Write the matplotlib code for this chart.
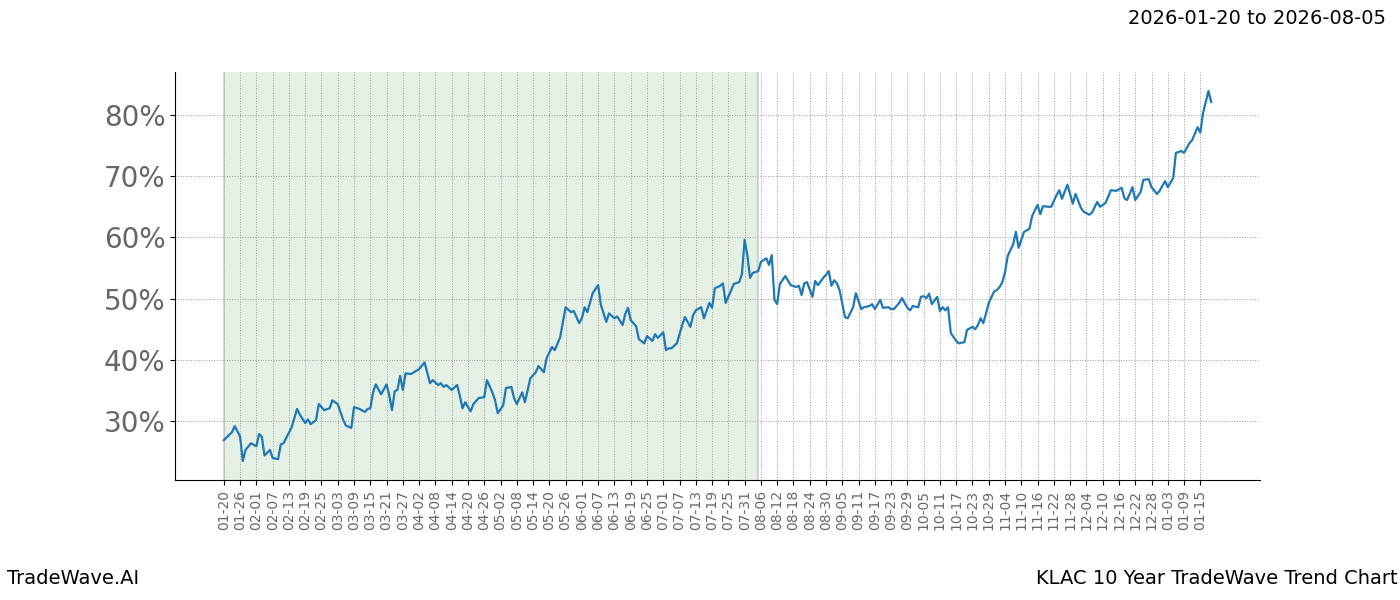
import numpy as np
import pandas as pd
import matplotlib
matplotlib.use('Agg')
import matplotlib.pyplot as plt
from matplotlib.ticker import FuncFormatter

start = pd.Timestamp('2026-01-20')
span_days = 197  # 2026-01-20 .. 2026-08-05

# day offset from start, trend value in %
days = [0, 3, 4, 6, 7, 8, 10, 12, 13, 14, 15, 17, 18, 20, 21, 22, 25, 27, 28, 30,
        31, 32, 34, 35, 37, 39, 40, 42, 44, 45, 47, 48, 50, 52, 53, 54, 55, 56, 58, 60,
        61, 62, 63, 64, 65, 66, 67, 69, 72, 74, 76, 77, 79, 80, 81, 82, 84, 86, 87, 88,
        89, 91, 92, 94, 96, 97, 99, 100, 101, 103, 104, 106, 107, 108, 110, 111, 113, 115, 116, 118,
        119, 121, 122, 124, 125, 126, 128, 129, 131, 132, 133, 134, 136, 138, 139, 141, 142, 144, 145, 147,
        148, 149, 150, 152, 153, 155, 156, 158, 159, 160, 162, 163, 164, 165, 167, 169, 170, 172, 173, 174,
        176, 177, 179, 180, 181, 183, 184, 185, 186, 188, 190, 191, 192, 193, 194, 195, 197, 198, 200, 201,
        202, 203, 204, 205, 207, 209, 211, 212, 213, 214, 215, 217, 218, 219, 221, 222, 223, 224, 225, 226,
        227, 229, 230, 232, 233, 235, 236, 238, 239, 240, 242, 243, 245, 246, 247, 249, 250, 252, 253, 254,
        256, 257, 258, 259, 260, 261, 263, 264, 265, 266, 267, 268, 270, 271, 273, 274, 276, 277, 278, 279,
        280, 281, 282, 284, 285, 286, 287, 288, 289, 291, 292, 293, 294, 295, 297, 298, 300, 301, 302, 304,
        305, 307, 308, 309, 311, 313, 314, 316, 317, 319, 320, 322, 323, 325, 326, 327, 329, 331, 332, 333,
        335, 336, 338, 339, 341, 342, 344, 345, 347, 348, 350, 351, 353, 354, 356, 357, 359, 360, 361, 363, 364]
values = [26.9, 28.2, 29.2, 27.5, 23.5, 25.3, 26.4, 25.9, 27.9, 27.5, 24.4, 25.3, 24.0, 23.8, 26.2, 26.4, 29.0, 32.0, 31.1, 29.7,
          30.3, 29.5, 30.2, 32.8, 31.8, 32.1, 33.4, 32.8, 30.2, 29.3, 28.9, 32.3, 32.0, 31.5, 32.0, 32.1, 34.7, 36.0, 34.4, 36.0,
          34.2, 31.8, 34.9, 35.1, 37.4, 35.1, 37.8, 37.7, 38.5, 39.6, 36.2, 36.7, 35.9, 36.2, 35.6, 35.9, 35.1, 35.9, 34.2, 32.1,
          33.1, 31.6, 32.8, 33.8, 33.9, 36.7, 34.7, 33.4, 31.3, 32.6, 35.4, 35.6, 33.8, 32.8, 34.7, 33.1, 37.0, 38.0, 39.0, 38.0,
          40.3, 42.1, 41.6, 43.7, 46.2, 48.6, 47.8, 48.0, 46.0, 46.8, 48.6, 47.8, 50.9, 52.2, 49.0, 46.2, 47.6, 46.8, 47.1, 45.7,
          47.5, 48.5, 46.5, 45.5, 43.4, 42.7, 43.9, 43.1, 44.2, 43.6, 44.5, 41.6, 41.9, 41.9, 42.7, 45.7, 47.0, 45.4, 47.3, 48.1,
          48.6, 46.8, 49.3, 48.5, 51.7, 52.1, 52.5, 49.3, 50.3, 52.4, 52.7, 54.0, 59.6, 57.1, 53.4, 54.2, 54.5, 56.0, 56.6, 55.5,
          57.1, 49.8, 49.1, 52.4, 53.7, 52.2, 51.9, 52.1, 50.6, 52.5, 52.7, 50.3, 52.9, 52.2, 53.4, 53.9, 54.5, 52.1, 53.0, 52.5,
          51.4, 47.0, 46.8, 48.6, 50.9, 48.3, 48.6, 48.8, 49.1, 48.3, 49.8, 48.5, 48.6, 48.3, 48.3, 49.3, 50.1, 48.5, 48.1, 48.8,
          48.6, 50.3, 50.4, 50.1, 50.8, 49.1, 50.3, 48.0, 48.6, 48.1, 48.6, 44.4, 43.1, 42.7, 42.9, 44.9, 45.4, 45.0, 45.7, 46.8,
          46.0, 47.6, 49.3, 51.2, 51.4, 51.9, 52.7, 54.3, 57.0, 58.9, 60.9, 58.3, 59.6, 60.9, 61.4, 63.5, 65.3, 63.8, 65.1, 65.0,
          65.0, 66.9, 67.7, 66.3, 68.6, 65.5, 67.1, 64.8, 64.2, 63.7, 64.0, 65.8, 65.0, 65.6, 66.6, 67.7, 67.6, 68.1, 66.4, 66.1,
          68.2, 66.1, 67.4, 69.4, 69.5, 68.2, 67.1, 67.6, 69.2, 68.2, 69.7, 73.8, 74.1, 73.8, 75.4, 75.9, 78.0, 77.1, 80.3, 83.9, 82.1]

tick_days = np.arange(0, 361, 6)
tick_labels = [(start + pd.Timedelta(days=int(d))).strftime('%m-%d') for d in tick_days]

fig = plt.figure(figsize=(14, 6), dpi=100)
ax = fig.add_axes([0.125, 0.2, 0.775, 0.68])

ax.axvspan(0, span_days, color='#2e8b2e', alpha=0.12, lw=0)
ax.axvline(0, color='#bbbbbb', lw=1.5, alpha=0.6)
ax.axvline(span_days, color='#bbbbbb', lw=1.5, alpha=0.6)
ax.plot(days, values, color='#1f77b4', lw=1.6)

ax.set_xlim(-18, 382)
ax.set_ylim(20.4, 87)
ax.set_xticks(tick_days)
ax.set_xticklabels(tick_labels, rotation=90, fontsize=10, color='#666666')
ax.set_yticks([30, 40, 50, 60, 70, 80])
ax.yaxis.set_major_formatter(FuncFormatter(lambda v, p: f'{v:.0f}%'))
ax.tick_params(axis='y', labelsize=20, labelcolor='#666666')
ax.grid(True, color='#999999', ls=':', lw=0.7)
ax.spines['top'].set_visible(False)
ax.spines['right'].set_visible(False)

fig.text(0.99, 0.97, '2026-01-20 to 2026-08-05', ha='right', va='center', fontsize=14)
fig.text(0.005, 0.02, 'TradeWave.AI', ha='left', va='bottom', fontsize=14)
fig.text(0.998, 0.02, 'KLAC 10 Year TradeWave Trend Chart', ha='right', va='bottom', fontsize=14)

fig.savefig('out.png')
